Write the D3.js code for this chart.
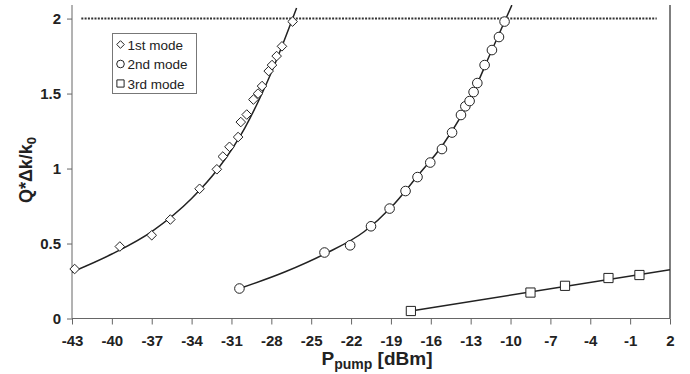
<!DOCTYPE html>
<html>
<head>
<meta charset="utf-8">
<script src="https://cdn.jsdelivr.net/npm/d3@7"></script>
<style>
  body { margin: 0; background: #fff; }
  svg { display: block; font-family: "Liberation Sans", Arial, sans-serif; }
</style>
</head>
<body>
<script>
// measured points, [P_pump dBm, Q*dk/k0]
const mode1 = [[-42.8,0.33],[-39.4,0.48],[-37.0,0.555],[-35.6,0.66],[-33.4,0.865],[-32.1,0.995],
  [-31.65,1.08],[-31.15,1.145],[-30.5,1.21],[-30.3,1.31],[-29.85,1.36],[-29.35,1.46],[-29.0,1.50],
  [-28.7,1.55],[-28.2,1.65],[-27.95,1.69],[-27.6,1.75],[-27.2,1.815],[-26.4,1.98]];
const mode2 = [[-30.4,0.20],[-24.0,0.44],[-22.07,0.488],[-20.5,0.615],[-19.1,0.733],[-17.9,0.85],
  [-17.0,0.943],[-16.04,1.04],[-15.16,1.13],[-14.4,1.24],[-13.73,1.357],[-13.4,1.415],[-13.08,1.45],
  [-12.78,1.51],[-12.5,1.57],[-11.95,1.69],[-11.4,1.79],[-10.87,1.877],[-10.45,1.98]];
const mode3 = [[-17.5,0.05],[-8.5,0.173],[-5.9,0.218],[-2.63,0.27],[-0.3,0.29]];

// fitted curves
const fit1 = [[-43,0.31],[-40,0.43],[-37,0.58],[-34,0.80],[-32,1.0],[-30,1.27],[-28,1.64],[-26.1,2.07]];
const fit2 = [[-30.4,0.20],[-27,0.31],[-24,0.43],[-21,0.58],[-19,0.74],[-17,0.95],[-15,1.17],
  [-13,1.47],[-11.5,1.77],[-9.9,2.09]];
const fit3 = [[-17.5,0.05],[2,0.325]];

const xTicks = d3.range(-43, 3, 3);
const yTicks = [0, 0.5, 1, 1.5, 2];
const legendLabels = ["1st mode", "2nd mode", "3rd mode"];
const threshold = 2;

const width = 690, height = 374;
const m = { left: 72, right: 670, top: 5, bottom: 318.5 };

const x = d3.scaleLinear([-43, 2], [m.left, m.right]);
const y = d3.scaleLinear([0, 2.0905], [m.bottom, m.top]);

const svg = d3.select("body").append("svg")
  .attr("width", width)
  .attr("height", height);

svg.append("defs").append("clipPath").attr("id", "clip")
  .append("rect")
  .attr("x", m.left).attr("y", m.top)
  .attr("width", m.right - m.left).attr("height", m.bottom - m.top);

const ink = "#222";
const axisColor = "#666";

// left axis
const yAxis = svg.append("g")
  .attr("transform", `translate(${m.left},0)`)
  .call(d3.axisLeft(y).tickValues(yTicks).tickSize(5).tickPadding(6)
    .tickFormat(d => String(d)));
yAxis.select(".domain").attr("stroke", axisColor).attr("d", `M0,${m.top}V${m.bottom}`);
yAxis.selectAll(".tick line").attr("stroke", axisColor);
yAxis.selectAll("text")
  .attr("font-size", 15).attr("font-weight", "bold").attr("fill", ink);

// bottom axis
const xAxis = svg.append("g")
  .attr("transform", `translate(0,${m.bottom})`)
  .call(d3.axisBottom(x).tickValues(xTicks).tickSize(6).tickPadding(11)
    .tickFormat(d => String(d)));
xAxis.select(".domain").attr("stroke", axisColor).attr("d", `M${m.left},0H${m.right}`);
xAxis.selectAll(".tick line").attr("stroke", axisColor);
xAxis.selectAll("text")
  .attr("font-size", 15).attr("font-weight", "bold").attr("fill", ink);

// right frame line
svg.append("line")
  .attr("x1", m.right).attr("x2", m.right)
  .attr("y1", m.top).attr("y2", m.bottom)
  .attr("stroke", "#555").attr("stroke-width", 1.5);

// threshold dotted line
svg.append("line")
  .attr("x1", x(-42.3)).attr("x2", x(1)).attr("y1", y(threshold)).attr("y2", y(threshold))
  .attr("stroke", "#333").attr("stroke-width", 2).attr("stroke-dasharray", "2,1.3");

// fitted curves
const line = d3.line().x(d => x(d[0])).y(d => y(d[1])).curve(d3.curveMonotoneX);
const plot = svg.append("g").attr("clip-path", "url(#clip)");
[fit1, fit2, fit3].forEach(f => {
  plot.append("path")
    .attr("d", line(f))
    .attr("fill", "none")
    .attr("stroke", ink)
    .attr("stroke-width", 1.5);
});

// markers
const diamond = s => `M0,${-s}L${s},0L0,${s}L${-s},0Z`;
const square = s => `M${-s},${-s}H${s}V${s}H${-s}Z`;
const circle = s => `M${s},0A${s},${s} 0 1,1 ${-s},0A${s},${s} 0 1,1 ${s},0Z`;
const shapes = [diamond, circle, square];
const sizes = [4.8, 4.8, 4.6];

[mode1, mode2, mode3].forEach((pts, i) => {
  svg.append("g").selectAll("path")
    .data(pts)
    .join("path")
    .attr("transform", d => `translate(${x(d[0])},${y(d[1])})`)
    .attr("d", shapes[i](sizes[i]))
    .attr("fill", "#fff")
    .attr("stroke", ink)
    .attr("stroke-width", 1);
});

// legend
const lg = svg.append("g").attr("transform", "translate(112.5,33.5)");
lg.append("rect")
  .attr("width", 84).attr("height", 60)
  .attr("fill", "#fff").attr("stroke", "#777").attr("stroke-width", 1);
legendLabels.forEach((t, i) => {
  const row = lg.append("g").attr("transform", `translate(8,${11 + i * 19.5})`);
  row.append("path")
    .attr("d", shapes[i](i === 2 ? 3.6 : 3.8))
    .attr("fill", "#fff").attr("stroke", ink).attr("stroke-width", 1);
  row.append("text")
    .attr("x", 7).attr("y", 5)
    .attr("font-size", 13.5).attr("fill", ink)
    .text(t);
});

// axis titles
const xt = svg.append("text")
  .attr("x", 377).attr("y", 365)
  .attr("text-anchor", "middle")
  .attr("font-size", 19).attr("font-weight", "bold").attr("fill", ink);
xt.append("tspan").text("P");
xt.append("tspan").attr("font-size", 14).attr("dy", 4).text("pump");
xt.append("tspan").attr("dy", -4).text(" [dBm]");

const yt = svg.append("text")
  .attr("transform", "translate(32,170) rotate(-90)")
  .attr("text-anchor", "middle")
  .attr("font-size", 18).attr("font-weight", "bold").attr("fill", ink);
yt.append("tspan").text("Q*Δk/k");
yt.append("tspan").attr("font-size", 13).attr("dy", 4).text("0");
</script>
</body>
</html>
